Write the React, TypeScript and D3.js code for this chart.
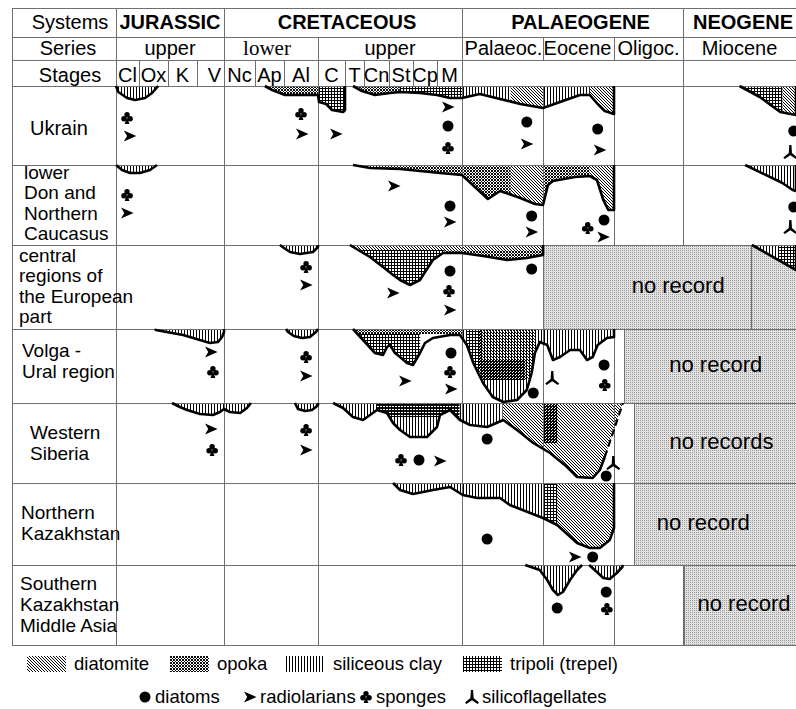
import React from "react";
import * as d3 from "d3";

// ---------- stratigraphic axis ----------
const stages = ["Cl", "Ox", "K", "V", "Nc", "Ap", "Al", "C", "T", "Cn", "St", "Cp", "M", "Palaeoc.", "Eocene", "Oligoc.", "Miocene"];
const stageRowLabels = stages.slice(0, 13);
const systems = [
  { name: "JURASSIC", from: 0, to: 4 },
  { name: "CRETACEOUS", from: 4, to: 13 },
  { name: "PALAEOGENE", from: 13, to: 16 },
  { name: "NEOGENE", from: 16, to: 17 },
];
const series = [
  { name: "upper", from: 0, to: 4 },
  { name: "lower", from: 4, to: 7 },
  { name: "upper", from: 7, to: 13 },
  { name: "Palaeoc.", from: 13, to: 14 },
  { name: "Eocene", from: 14, to: 15 },
  { name: "Oligoc.", from: 15, to: 16 },
  { name: "Miocene", from: 16, to: 17 },
];

// ---------- regions ----------
const regionNames = [
  ["Ukrain"],
  ["lower", "Don and", "Northern", "Caucasus"],
  ["central", "regions of", "the European", "part"],
  ["Volga -", "Ural region"],
  ["Western", "Siberia"],
  ["Northern", "Kazakhstan"],
  ["Southern", "Kazakhstan", "Middle Asia"],
];

type Rock = "diatomite" | "opoka" | "clay" | "tripoli";
type Pt = [number, number]; // [stage position, depth below row top]
type Body = { pts: Pt[]; dashedEnd?: boolean };
type Facies = { rock: Rock; from: number; to: number; top?: number; bottom?: number };
type FossilKind = "diatom" | "radiolarian" | "sponge" | "silicoflagellate";
type Fossil = [FossilKind, number, number];

// Ukrain
const ukrainBodies: Body[] = [
  { pts: [[0, 0], [0.1, 6], [0.48, 12], [0.83, 14], [1.21, 12], [1.45, 7], [1.66, 0]] },
  { pts: [[5.34, 0], [5.59, 4], [6.03, 9], [6.47, 9], [7.0, 9], [7.04, 16], [7.3, 18], [7.52, 24], [7.93, 26], [8.0, 24], [8.0, 0]] },
  { pts: [[8.42, 0], [8.89, 5], [9.44, 9], [10.04, 7], [10.46, 6], [11.29, 7], [12.0, 9], [12.52, 12], [13.0, 12], [13.22, 8], [13.47, 13], [13.72, 18], [14.0, 22], [14.24, 16], [14.52, 9], [14.66, 9], [14.77, 18], [14.87, 25], [15.0, 28], [15.0, 0]] },
  { pts: [[16.5, 0], [16.68, 11], [16.86, 26], [17.0, 29], [17.0, 0]] },
];
const ukrainFacies: Facies[] = [
  { rock: "clay", from: 0, to: 1.7 },
  { rock: "opoka", from: 5.3, to: 7.0 },
  { rock: "tripoli", from: 7.0, to: 8.0 },
  { rock: "opoka", from: 8.4, to: 10.45 },
  { rock: "tripoli", from: 10.45, to: 13.0 },
  { rock: "clay", from: 13.0, to: 13.6 },
  { rock: "diatomite", from: 13.6, to: 14.0 },
  { rock: "clay", from: 14.0, to: 14.66 },
  { rock: "diatomite", from: 14.66, to: 15.0 },
  { rock: "tripoli", from: 16.5, to: 16.88 },
  { rock: "diatomite", from: 16.88, to: 17.0 },
];
const ukrainFossils: Fossil[] = [
  ["sponge", 0.48, 32], ["radiolarian", 0.6, 50], ["sponge", 6.5, 28], ["radiolarian", 6.53, 48],
  ["radiolarian", 7.67, 48], ["radiolarian", 12.44, 21], ["diatom", 12.44, 40], ["sponge", 12.44, 62],
  ["diatom", 13.8, 36], ["radiolarian", 13.8, 58], ["diatom", 14.77, 43], ["radiolarian", 14.8, 64],
  ["diatom", 16.98, 45], ["silicoflagellate", 16.95, 66],
];

// lower Don and Northern Caucasus
const donBodies: Body[] = [
  { pts: [[0, 0], [0.26, 5], [0.61, 8], [1.03, 8], [1.38, 5], [1.62, 0]] },
  { pts: [[8.42, 0], [9.24, 3], [10.46, 4], [12.12, 8], [13.0, 10], [13.16, 22], [13.32, 34], [13.47, 26], [13.72, 33], [13.9, 39], [14.0, 40], [14.07, 20], [14.14, 16], [14.45, 12], [14.66, 11], [14.76, 15], [14.85, 35], [14.92, 45], [15.0, 45], [15.0, 0]] },
  { pts: [[16.55, 0], [16.88, 18], [16.97, 25], [17.0, 26], [17.0, 0]] },
];
const donFacies: Facies[] = [
  { rock: "clay", from: 0, to: 1.7 },
  { rock: "opoka", from: 8.4, to: 13.6 },
  { rock: "diatomite", from: 13.6, to: 14.0 },
  { rock: "opoka", from: 14.0, to: 14.66 },
  { rock: "diatomite", from: 14.66, to: 15.0 },
  { rock: "clay", from: 16.55, to: 17.0 },
];
const donFossils: Fossil[] = [
  ["sponge", 0.48, 30], ["radiolarian", 0.48, 48], ["radiolarian", 10.21, 21], ["diatom", 12.52, 41],
  ["radiolarian", 12.52, 57], ["diatom", 13.86, 51], ["radiolarian", 13.86, 67], ["sponge", 14.63, 63],
  ["diatom", 14.86, 55], ["radiolarian", 14.85, 72], ["diatom", 16.98, 42], ["silicoflagellate", 16.95, 62],
];

// central regions of the European part
const centralBodies: Body[] = [
  { pts: [[5.86, 0], [6.0, 3], [6.18, 7], [6.47, 9], [6.85, 7], [7.0, 2], [7.0, 0]] },
  { pts: [[8.26, 0], [9.24, 12], [9.76, 22], [10.17, 30], [10.46, 35], [10.875, 40], [11.29, 35], [11.5, 27], [11.83, 15], [12.24, 8], [13.0, 8], [13.26, 11], [13.56, 15], [13.8, 13], [14.0, 10], [14.0, 0]] },
  { pts: [[16.61, 0], [17.0, 25], [17.0, 0]] },
];
const centralFacies: Facies[] = [
  { rock: "clay", from: 5.8, to: 7.0 },
  { rock: "diatomite", from: 8.2, to: 14.0, top: 0, bottom: 5 },
  { rock: "tripoli", from: 8.2, to: 12.3, top: 5, bottom: 60 },
  { rock: "opoka", from: 12.3, to: 14.0, top: 5, bottom: 60 },
  { rock: "clay", from: 16.6, to: 16.85 },
  { rock: "tripoli", from: 16.85, to: 17.0 },
];
const centralFossils: Fossil[] = [
  ["sponge", 6.65, 22], ["radiolarian", 6.65, 40], ["radiolarian", 10.17, 48], ["diatom", 12.52, 26],
  ["sponge", 12.48, 46], ["radiolarian", 12.52, 65], ["diatom", 13.86, 24],
];

// Volga - Ural region
const volgaBodies: Body[] = [
  { pts: [[1.55, 0], [1.58, 1], [2.52, 6], [3.48, 14], [3.78, 13], [3.93, 8], [4.0, 3], [4.0, 0]] },
  { pts: [[6.06, 0], [6.12, 3], [6.29, 7], [6.53, 9], [6.76, 8], [6.94, 3], [7.0, 0]] },
  { pts: [[8.42, 0], [8.95, 11], [9.44, 24], [9.76, 26], [9.92, 18], [10.04, 16], [10.25, 24], [10.46, 28], [10.75, 34], [11.0, 36], [11.29, 24], [11.5, 14], [11.83, 9], [12.52, 6], [12.92, 6], [13.06, 16], [13.14, 34], [13.26, 54], [13.38, 68], [13.51, 73], [13.68, 71], [13.8, 61], [13.86, 44], [13.9, 24], [13.96, 13], [14.06, 16], [14.14, 31], [14.24, 28], [14.38, 21], [14.52, 21], [14.62, 31], [14.7, 28], [14.77, 16], [14.9, 9], [15.0, 8], [15.0, 0]] },
];
const volgaFacies: Facies[] = [
  { rock: "clay", from: 1.5, to: 4.0 },
  { rock: "clay", from: 6.0, to: 7.0 },
  { rock: "opoka", from: 8.4, to: 13.0, top: 0, bottom: 5 },
  { rock: "tripoli", from: 8.4, to: 11.3, top: 5, bottom: 80 },
  { rock: "clay", from: 13.0, to: 14.0 },
  { rock: "diatomite", from: 13.2, to: 13.9, top: 0, bottom: 51 },
  { rock: "tripoli", from: 13.06, to: 13.25, top: 0, bottom: 40 },
  { rock: "tripoli", from: 13.22, to: 13.78, top: 31, bottom: 51 },
  { rock: "clay", from: 14.0, to: 15.0 },
];
const volgaFossils: Fossil[] = [
  ["radiolarian", 3.52, 23], ["sponge", 3.59, 43], ["sponge", 6.65, 28], ["radiolarian", 6.65, 47],
  ["radiolarian", 10.67, 52], ["diatom", 12.56, 24], ["sponge", 12.52, 43], ["radiolarian", 12.56, 60],
  ["diatom", 13.88, 64], ["silicoflagellate", 14.13, 49], ["diatom", 14.86, 36], ["sponge", 14.87, 56],
];

// Western Siberia
const siberiaBodies: Body[] = [
  { pts: [[2.14, 0], [2.41, 4], [2.66, 7], [3.11, 11], [3.59, 12], [3.85, 9], [4.0, 6], [4.19, 9], [4.52, 10], [4.74, 5], [4.87, 0]] },
  { pts: [[6.32, 0], [6.41, 6], [6.62, 8], [6.82, 7], [6.94, 4], [7.0, 2], [7.0, 0]] },
  { pts: [[7.56, 0], [7.93, 5], [8.42, 14], [8.95, 17], [9.24, 12], [9.52, 7], [9.92, 10], [10.17, 20], [10.46, 27], [10.875, 34], [11.58, 34], [12.0, 24], [12.12, 12], [12.52, 7], [12.92, 17], [13.1, 22], [13.31, 24], [13.51, 17], [13.68, 27], [13.88, 40], [14.1, 50], [14.34, 64], [14.48, 74], [14.7, 75], [14.8, 67], [14.87, 54], [15.13, 0]], dashedEnd: true },
];
const siberiaFacies: Facies[] = [
  { rock: "clay", from: 2.1, to: 4.9 },
  { rock: "clay", from: 6.3, to: 7.0 },
  { rock: "clay", from: 7.5, to: 13.5 },
  { rock: "opoka", from: 9.5, to: 12.9, top: 0, bottom: 14 },
  { rock: "diatomite", from: 13.5, to: 15.2 },
  { rock: "tripoli", from: 14.0, to: 14.2, top: 0, bottom: 40 },
];
const siberiaFossils: Fossil[] = [
  ["radiolarian", 3.52, 26], ["sponge", 3.56, 47], ["sponge", 6.65, 27], ["radiolarian", 6.65, 47],
  ["sponge", 10.5, 57], ["diatom", 11.25, 57], ["radiolarian", 12.12, 58], ["diatom", 13.31, 36],
  ["silicoflagellate", 14.99, 60], ["diatom", 14.89, 73],
];

// Northern Kazakhstan
const northKazBodies: Body[] = [
  { pts: [[10.17, 0], [10.46, 7], [11.0, 11], [11.83, 7], [12.52, 4], [13.01, 12], [13.19, 15], [13.47, 15], [13.59, 22], [14.0, 35], [14.2, 42], [14.48, 60], [14.66, 65], [14.8, 65], [14.94, 57], [15.0, 45], [15.0, 0]] },
];
const northKazFacies: Facies[] = [
  { rock: "clay", from: 10.1, to: 14.0 },
  { rock: "tripoli", from: 14.0, to: 14.2 },
  { rock: "diatomite", from: 14.2, to: 15.0 },
];
const northKazFossils: Fossil[] = [
  ["diatom", 13.31, 56], ["radiolarian", 14.45, 74], ["diatom", 14.7, 74],
];

// Southern Kazakhstan, Middle Asia
const southKazBodies: Body[] = [
  { pts: [[13.78, 0], [13.96, 5], [14.06, 15], [14.14, 25], [14.21, 30], [14.28, 27], [14.38, 15], [14.48, 5], [14.55, 0]] },
  { pts: [[14.65, 0], [14.76, 7], [14.85, 13], [14.94, 14], [15.04, 8], [15.12, 2], [15.13, 0]] },
];
const southKazFacies: Facies[] = [{ rock: "clay", from: 13.7, to: 15.2 }];
const southKazFossils: Fossil[] = [
  ["diatom", 14.2, 43], ["diatom", 14.89, 27], ["sponge", 14.9, 44],
];

const regionBodies = [ukrainBodies, donBodies, centralBodies, volgaBodies, siberiaBodies, northKazBodies, southKazBodies];
const regionFacies = [ukrainFacies, donFacies, centralFacies, volgaFacies, siberiaFacies, northKazFacies, southKazFacies];
const regionFossils = [ukrainFossils, donFossils, centralFossils, volgaFossils, siberiaFossils, northKazFossils, southKazFossils];

// intervals without record: row, first stage position, label, label position, optional divider
const noRecord: { row: number; from: number; label: string; at: number; divider?: number }[] = [
  { row: 2, from: 14.0, label: "no record", at: 15.93, divider: 16.61 },
  { row: 3, from: 15.145, label: "no record", at: 16.29 },
  { row: 4, from: 15.3, label: "no records", at: 16.34 },
  { row: 5, from: 15.3, label: "no record", at: 16.18 },
  { row: 6, from: 16.01, label: "no record", at: 16.54 },
];

const rockLegend: [Rock, string][] = [
  ["diatomite", "diatomite"],
  ["opoka", "opoka"],
  ["clay", "siliceous clay"],
  ["tripoli", "tripoli (trepel)"],
];
const fossilLegend: [FossilKind, string][] = [
  ["diatom", "diatoms"],
  ["radiolarian", "radiolarians"],
  ["sponge", "sponges"],
  ["silicoflagellate", "silicoflagellates"],
];

// ---------- layout ----------
const W = 796;
const H = 709;
const FRAME_L = 12;
const FRAME_R = 796;
const stageEdges = [116, 139, 168, 197, 224, 255, 284, 318, 345, 364, 389, 413, 437, 462, 543, 614, 683, 796];
const headerEdges = [8, 37, 60, 86];
const rowEdges = [86, 165, 245, 329, 403, 483, 565, 645];
const majorCols = [0, 4, 7, 13, 14, 15, 16];
const labelLayout = [
  { x: 30, y: 135, size: 20, step: 21 },
  { x: 24, y: 179, size: 19, step: 20.3 },
  { x: 19, y: 262, size: 19, step: 20.3 },
  { x: 22, y: 357, size: 19, step: 21 },
  { x: 30, y: 439, size: 19, step: 21 },
  { x: 21, y: 519, size: 19, step: 21 },
  { x: 20, y: 590, size: 19, step: 21 },
];
const rockSwatchX = [27, 170, 286, 463];
const fossilLegendX = [145, 250, 366, 472];
const GRID = "#6f6f6f";
const FONT = "'Liberation Sans', Arial, Helvetica, sans-serif";

const x = d3.scaleLinear().domain(stageEdges.map((_, i) => i)).range(stageEdges);

function FossilMark({ kind, cx, cy }: { kind: FossilKind; cx: number; cy: number }) {
  const t = `translate(${cx},${cy})`;
  if (kind === "diatom") return <circle cx={cx} cy={cy} r={5.5} fill="#000" />;
  if (kind === "radiolarian")
    return <path transform={t} d="M-6,-5.5 L6.5,0 L-6,5.5 L-2.8,0 Z" fill="#000" />;
  if (kind === "sponge")
    return (
      <g transform={t} fill="#000">
        <circle cx={0} cy={-3.3} r={2.7} />
        <circle cx={-3.1} cy={0.7} r={2.7} />
        <circle cx={3.1} cy={0.7} r={2.7} />
        <path d="M0,-1 L-2.4,6 L2.4,6 Z" />
      </g>
    );
  return (
    <path
      transform={t}
      d="M-1.1,-7 L1.1,-7 L1.6,1 L7,5.6 L5.6,7 L0,3.2 L-5.6,7 L-7,5.6 L-1.6,1 Z"
      fill="#000"
    />
  );
}

export default function App() {
  const rowScale = (r: number) =>
    d3.scaleLinear().domain([0, rowEdges[r + 1] - rowEdges[r]]).range([rowEdges[r], rowEdges[r + 1]]);

  const regions = regionBodies.map((bodies, r) => {
    const y = rowScale(r);
    const line = d3.line<Pt>().x((p) => x(p[0])).y((p) => y(p[1]));
    const area = bodies.map((b) => line(b.pts) + "Z").join(" ");
    const gray = noRecord.find((n) => n.row === r);
    return { r, y, line, area, bodies, gray };
  });

  const hLines = [...headerEdges, ...rowEdges.slice(1)];

  return (
    <svg
      width={W}
      height={H}
      viewBox={`0 0 ${W} ${H}`}
      style={{ position: "absolute", left: 0, top: 0, display: "block", background: "#fff" }}
      fontFamily={FONT}
    >
      <defs>
        <pattern id="pat-diatomite" width={3} height={3} patternUnits="userSpaceOnUse">
          <path d="M-1,-1 L4,4 M-1,2 L1,4 M2,-1 L4,1" stroke="#000" strokeWidth={1} />
        </pattern>
        <pattern id="pat-opoka" width={3} height={3} patternUnits="userSpaceOnUse">
          <path d="M-1,-1 L4,4 M-1,2 L1,4 M2,-1 L4,1 M-1,4 L4,-1 M-1,1 L1,-1 M2,4 L4,2" stroke="#000" strokeWidth={0.95} />
        </pattern>
        <pattern id="pat-clay" width={3} height={3} patternUnits="userSpaceOnUse">
          <rect x={1} y={0} width={1} height={3} fill="#000" />
        </pattern>
        <pattern id="pat-tripoli" width={3} height={3} patternUnits="userSpaceOnUse">
          <rect x={1} y={0} width={1} height={3} fill="#000" />
          <rect x={0} y={1} width={3} height={1} fill="#000" />
        </pattern>
        <pattern id="pat-gray" width={2} height={2} patternUnits="userSpaceOnUse">
          <rect width={2} height={2} fill="#e2e2e2" />
          <rect width={1} height={1} fill="#999" />
        </pattern>
        {regions.map((g) => (
          <clipPath id={`clip-${g.r}`} key={g.r}>
            <path d={g.area} />
          </clipPath>
        ))}
      </defs>

      <rect width={W} height={H} fill="#fff" />

      {/* intervals without record */}
      {noRecord.map((n) => (
        <rect
          key={n.row}
          x={x(n.from)}
          y={rowEdges[n.row]}
          width={FRAME_R - x(n.from)}
          height={rowEdges[n.row + 1] - rowEdges[n.row]}
          fill="url(#pat-gray)"
        />
      ))}

      {/* siliceous rock bodies */}
      {regions.map((g) => (
        <g key={g.r}>
          <path d={g.area} fill="#fff" />
          <g clipPath={`url(#clip-${g.r})`}>
            {regionFacies[g.r].map((f, i) => {
              const h = rowEdges[g.r + 1] - rowEdges[g.r];
              const top = f.top ?? 0;
              const bottom = Math.min(f.bottom ?? h, h);
              return (
                <rect
                  key={i}
                  x={x(f.from)}
                  y={g.y(top)}
                  width={x(f.to) - x(f.from)}
                  height={g.y(bottom) - g.y(top)}
                  fill={`url(#pat-${f.rock})`}
                />
              );
            })}
          </g>
        </g>
      ))}

      {/* grid */}
      <g stroke={GRID} strokeWidth={1} shapeRendering="crispEdges">
        {hLines.map((yy, i) => (
          <line key={`h${i}`} x1={FRAME_L} x2={FRAME_R} y1={yy} y2={yy} />
        ))}
        <line x1={FRAME_L} x2={FRAME_L} y1={headerEdges[0]} y2={rowEdges[rowEdges.length - 1]} />
        {[0, 4, 13, 16].map((c) => (
          <line key={`sy${c}`} x1={x(c)} x2={x(c)} y1={headerEdges[0]} y2={headerEdges[1]} />
        ))}
        {[0, 4, 7, 13, 14, 15, 16].map((c) => (
          <line key={`se${c}`} x1={x(c)} x2={x(c)} y1={headerEdges[1]} y2={headerEdges[2]} />
        ))}
        {[...d3.range(0, 14), 16].map((c) => (
          <line key={`st${c}`} x1={x(c)} x2={x(c)} y1={headerEdges[2]} y2={headerEdges[3]} />
        ))}
        {regions.map((g) =>
          majorCols
            .filter((c) => !g.gray || c <= g.gray.from)
            .map((c) => (
              <line key={`v${g.r}-${c}`} x1={x(c)} x2={x(c)} y1={rowEdges[g.r]} y2={rowEdges[g.r + 1]} />
            ))
        )}
        {noRecord.map((n) => (
          <g key={`nb${n.row}`}>
            <line x1={x(n.from)} x2={x(n.from)} y1={rowEdges[n.row]} y2={rowEdges[n.row + 1]} />
            {n.divider !== undefined && (
              <line x1={x(n.divider)} x2={x(n.divider)} y1={rowEdges[n.row]} y2={rowEdges[n.row + 1]} />
            )}
          </g>
        ))}
      </g>

      {/* body outlines */}
      {regions.map((g) =>
        g.bodies.map((b, i) => {
          const solid = b.dashedEnd ? b.pts.slice(0, -1) : b.pts;
          return (
            <g key={`o${g.r}-${i}`} fill="none" stroke="#000" strokeLinejoin="round">
              <path d={g.line(solid) ?? ""} strokeWidth={2.6} />
              {b.dashedEnd && (
                <path d={g.line(b.pts.slice(-2)) ?? ""} strokeWidth={2.2} strokeDasharray="7,4" />
              )}
            </g>
          );
        })
      )}

      {/* fossil occurrences */}
      {regions.map((g) =>
        regionFossils[g.r].map(([kind, t, d], i) => (
          <FossilMark key={`f${g.r}-${i}`} kind={kind} cx={x(t)} cy={g.y(d)} />
        ))
      )}

      {/* no-record labels */}
      {noRecord.map((n) => (
        <text
          key={`nt${n.row}`}
          x={x(n.at)}
          y={(rowEdges[n.row] + rowEdges[n.row + 1]) / 2 + 6}
          fontSize={22}
          textAnchor="middle"
        >
          {n.label}
        </text>
      ))}

      {/* header */}
      <g fontSize={20} fill="#000">
        <text x={70} y={29} textAnchor="middle">Systems</text>
        <text x={68} y={55} textAnchor="middle">Series</text>
        <text x={70} y={82} textAnchor="middle">Stages</text>
        {systems.map((s, i) => (
          <text
            key={s.name}
            x={i === 3 ? x(s.from) + 10 : i === 2 ? (x(s.from) + x(s.to)) / 2 + 8 : (x(s.from) + x(s.to)) / 2 + (i === 1 ? 4 : 0)}
            y={29}
            textAnchor={i === 3 ? "start" : "middle"}
            fontWeight="bold"
          >
            {s.name}
          </text>
        ))}
        {series.map((s, i) => (
          <text
            key={i}
            x={(x(s.from) + x(s.to)) / 2 + (i === 1 ? -4 : i === 3 ? 1 : i === 4 ? -1 : 0)}
            y={55}
            textAnchor="middle"
            fontFamily={s.name === "lower" ? "'Liberation Serif', 'Times New Roman', serif" : undefined}
            fontSize={s.name === "lower" ? 21 : 20}
          >
            {s.name}
          </text>
        ))}
        {stageRowLabels.map((s, i) => (
          <text
            key={s}
            x={s === "V" ? x(i + 1) - 3 : (x(i) + x(i + 1)) / 2}
            y={82}
            textAnchor={s === "V" ? "end" : "middle"}
          >
            {s}
          </text>
        ))}
      </g>

      {/* region names */}
      {regionNames.map((lines, r) => (
        <text key={`rn${r}`} fontSize={labelLayout[r].size}>
          {lines.map((ln, j) => (
            <tspan key={j} x={labelLayout[r].x} y={labelLayout[r].y + j * labelLayout[r].step}>
              {ln}
            </tspan>
          ))}
        </text>
      ))}

      {/* legend */}
      <g fontSize={18.5}>
        {rockLegend.map(([rock, label], i) => (
          <g key={rock}>
            <rect x={rockSwatchX[i]} y={656} width={39} height={16} fill={`url(#pat-${rock})`} />
            <text x={rockSwatchX[i] + 47} y={670}>{label}</text>
          </g>
        ))}
        {fossilLegend.map(([kind, label], i) => (
          <g key={kind}>
            <FossilMark kind={kind} cx={fossilLegendX[i]} cy={697} />
            <text x={fossilLegendX[i] + 10} y={703}>{label}</text>
          </g>
        ))}
      </g>
    </svg>
  );
}
